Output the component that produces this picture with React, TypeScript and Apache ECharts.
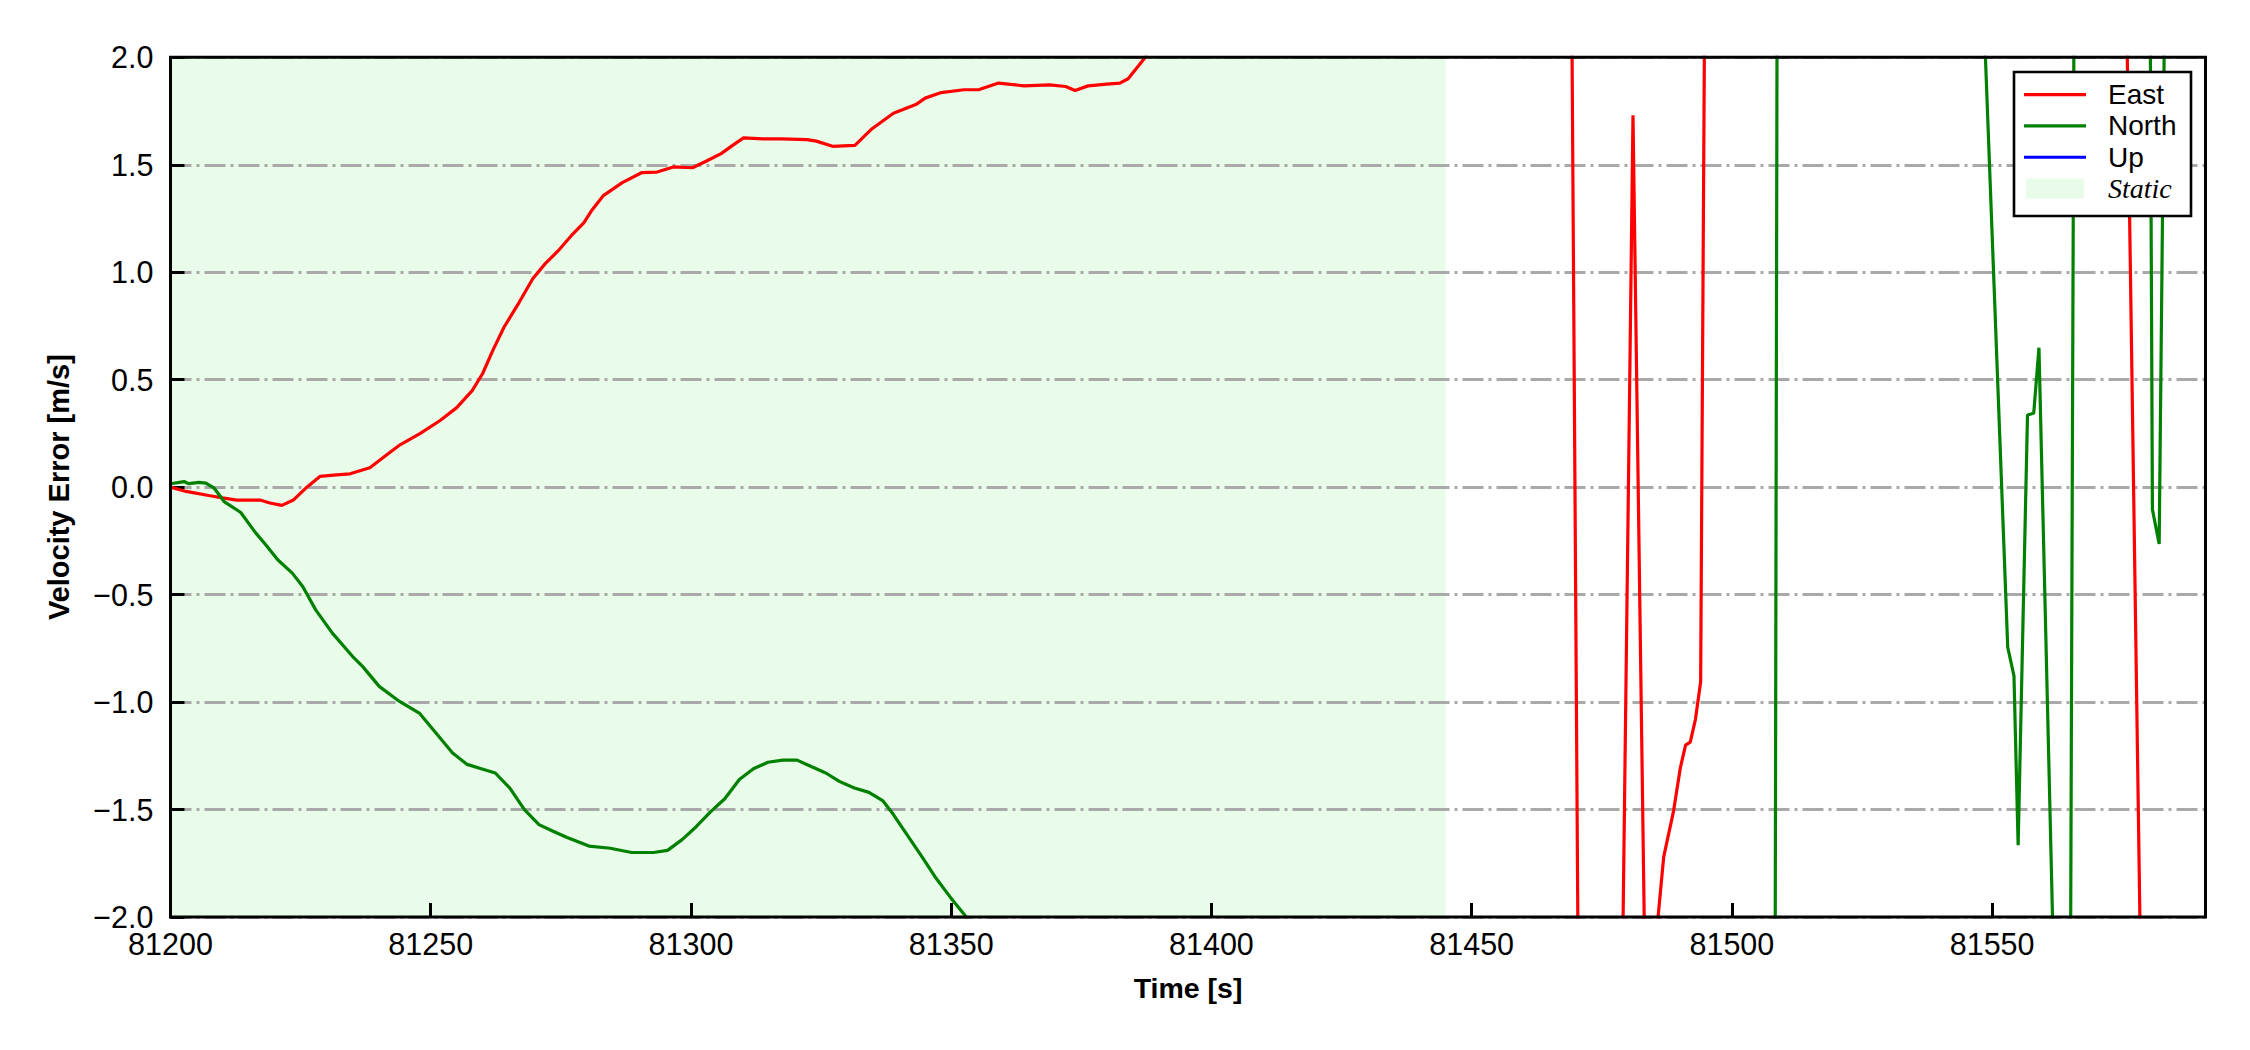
import React, { useEffect, useRef } from "react";
import * as echarts from "echarts";

// ---------- data ----------
const eastTime = [
  81200, 81203, 81207.6, 81210, 81212.7, 81217.2, 81219.1, 81221.4, 81223.6, 81226.2,
  81228.7, 81231.9, 81234.5, 81238.3, 81241.5, 81244.1, 81248, 81251.8, 81255, 81258,
  81260, 81262, 81264.1, 81267, 81269.6, 81272, 81274.5, 81277, 81279.4, 81281,
  81283.1, 81286.8, 81290.5, 81293.5, 81296.6, 81300.3, 81302.7, 81305.8, 81308, 81310.1,
  81313.8, 81317.4, 81322.3, 81324.1, 81327.2, 81331.5, 81334.6, 81338.9, 81343.2, 81345,
  81348.1, 81352.4, 81355.4, 81359.1, 81364, 81368.9, 81372, 81373.8, 81376.3, 81379.9,
  81382.4, 81384, 81387.3, 81390, 81400, 81420, 81440, 81460, 81468, 81469,
  81471, 81475, 81479, 81481, 81483.5, 81486.9, 81488.8, 81490.1, 81491.1, 81492,
  81493, 81494, 81495, 81510, 81530, 81550, 81570, 81575, 81577, 81579,
  81585, 81591,
];
const eastValue = [
  0.0, -0.02, -0.04, -0.05, -0.06, -0.06, -0.074, -0.085, -0.06, 0.0,
  0.05, 0.057, 0.062, 0.09, 0.15, 0.197, 0.25, 0.31, 0.37, 0.45,
  0.53, 0.64, 0.745, 0.86, 0.97, 1.04, 1.1, 1.17, 1.23, 1.29,
  1.355, 1.417, 1.463, 1.466, 1.49, 1.486, 1.514, 1.552, 1.59, 1.625,
  1.62, 1.62, 1.617, 1.61, 1.586, 1.59, 1.664, 1.74, 1.78, 1.81,
  1.836, 1.849, 1.85, 1.88, 1.867, 1.872, 1.864, 1.846, 1.867, 1.875,
  1.88, 1.9, 2.0, 2.15, 2.6, 3.1, 3.8, 4.4, 4.6, 3.09,
  -4.19, -4.6, -2.2, 1.73, -2.6, -1.72, -1.506, -1.306, -1.2, -1.186,
  -1.08, -0.905, 3.2, 4.0, 4.5, 4.2, 3.9, 3.6, 0.3, -3.0,
  -3.8, -4.1,
];

const northTime = [
  81200, 81202.6, 81203.5, 81205.5, 81206.8, 81208.4, 81210.3, 81213.5, 81216.4, 81218.3,
  81220.6, 81223.4, 81225.4, 81227.9, 81231.1, 81235, 81236.9, 81240.1, 81244, 81247.8,
  81251, 81254.2, 81257, 81259.7, 81262.4, 81265.2, 81268, 81270.8, 81273.4, 81276.2,
  81280.4, 81284.5, 81288.6, 81292.8, 81295.5, 81298.3, 81301, 81303.8, 81306.5, 81309.3,
  81312, 81314.8, 81317.6, 81320.4, 81323.1, 81325.9, 81328.6, 81331.4, 81334.2, 81336.9,
  81338.8, 81341.6, 81344.4, 81347.1, 81349.9, 81352.9, 81356, 81380, 81420, 81460,
  81490, 81508, 81509, 81520, 81535, 81547, 81548, 81553, 81554.2, 81555,
  81556.8, 81558, 81559, 81562, 81565, 81566, 81572, 81580.3, 81580.8, 81582.1,
  81583.3, 81586, 81591,
];
const northValue = [
  0.016, 0.026, 0.016, 0.022, 0.019, -0.005, -0.067, -0.118, -0.214, -0.268,
  -0.338, -0.4, -0.462, -0.571, -0.679, -0.788, -0.834, -0.927, -0.997, -1.051,
  -1.144, -1.237, -1.29, -1.31, -1.33, -1.4, -1.5, -1.57, -1.6, -1.63,
  -1.67, -1.68, -1.7, -1.7, -1.69, -1.64, -1.58, -1.51, -1.45, -1.36,
  -1.31, -1.28, -1.27, -1.27, -1.3, -1.33, -1.37, -1.4, -1.42, -1.46,
  -1.52, -1.62, -1.72, -1.82, -1.91, -2.0, -2.2, -3.1, -4.0, -4.8,
  -5.5, -6.0, 6.0, 5.2, 4.0, 3.0, 2.46, -0.745, -0.878, -1.666,
  0.336, 0.344, 0.649, -2.4, -2.67, 4.0, 5.0, 2.6, -0.104, -0.264,
  2.6, 4.5, 5.0,
];

// Up component: no visible samples inside the plotted window
const upTime: number[] = [];
const upValue: number[] = [];

const staticStart = 81200;
const staticEnd = 81445;

const xMin = 81200;
const xMax = 81591;
const xInterval = 50;
const yMin = -2;
const yMax = 2;
const yInterval = 0.5;

// ---------- layout / style ----------
const W = 2250;
const H = 1050;
const GL = 170.5;
const GR = 44.5;
const GT = 57.3;
const GB = 133;
const SANS = "'Liberation Sans', Arial, sans-serif";
const SERIF = "'Liberation Serif', 'Times New Roman', serif";
const STATIC_COLOR = "#e9fce9";
const EAST_COLOR = "#ff0000";
const NORTH_COLOR = "#008000";
const UP_COLOR = "#0000ff";
const LINE_ICON = "path://M0,0H62V3.2H0Z";

const zip = (a: number[], b: number[]) => a.map((t, i) => [t, b[i]]);

export default function App() {
  const ref = useRef<HTMLDivElement>(null);

  useEffect(() => {
    if (!ref.current) return;
    const chart = echarts.init(ref.current, undefined, { renderer: "svg" });

    const lineSeries = (name: string, color: string, data: number[][]) => ({
      name,
      type: "line",
      data,
      symbol: "none",
      showSymbol: false,
      clip: true,
      z: 2,
      color,
      lineStyle: { color, width: 3.2 },
      itemStyle: { color },
    });

    chart.setOption({
      animation: false,
      backgroundColor: "#ffffff",
      textStyle: { fontFamily: SANS, color: "#000" },
      grid: { left: GL, right: GR, top: GT, bottom: GB, show: false, containLabel: false },
      xAxis: {
        type: "value",
        min: xMin,
        max: xMax,
        interval: xInterval,
        z: 1,
        name: "Time [s]",
        nameLocation: "middle",
        nameGap: 56,
        nameTextStyle: { fontFamily: SANS, fontSize: 28.5, fontWeight: "bold", color: "#000" },
        axisLine: { show: false, onZero: false },
        axisTick: { show: true, inside: true, length: 14, lineStyle: { color: "#000", width: 3 } },
        axisLabel: {
          show: true,
          margin: 11,
          fontSize: 30.5,
          fontFamily: SANS,
          color: "#000",
          showMaxLabel: false,
          formatter: (v: number) => String(Math.round(v)),
        },
        splitLine: { show: false },
      },
      yAxis: {
        type: "value",
        min: yMin,
        max: yMax,
        interval: yInterval,
        z: 1,
        name: "Velocity Error [m/s]",
        nameLocation: "middle",
        nameRotate: 90,
        nameGap: 97,
        nameTextStyle: { fontFamily: SANS, fontSize: 29, fontWeight: "bold", color: "#000" },
        axisLine: { show: false, onZero: false },
        axisTick: { show: true, inside: true, length: 14, lineStyle: { color: "#000", width: 3 } },
        axisLabel: {
          show: true,
          margin: 17,
          fontSize: 30.5,
          fontFamily: SANS,
          color: "#000",
          formatter: (v: number) => v.toFixed(1).replace("-", "\u2212"),
        },
        splitLine: {
          show: true,
          lineStyle: { color: "#a9a9a9", width: 2.8, type: [21, 5, 3, 5] },
        },
      },
      legend: {
        show: true,
        orient: "vertical",
        left: 2024,
        top: 79,
        padding: 0,
        itemGap: 0,
        itemWidth: 62,
        itemHeight: 20,
        z: 6,
        textStyle: {
          fontFamily: SANS,
          fontSize: 28,
          color: "#000",
          lineHeight: 31.3,
          padding: [0, 0, 0, 17],
        },
        data: [
          { name: "East", icon: LINE_ICON, itemStyle: { color: EAST_COLOR } },
          { name: "North", icon: LINE_ICON, itemStyle: { color: NORTH_COLOR } },
          { name: "Up", icon: LINE_ICON, itemStyle: { color: UP_COLOR } },
          {
            name: "Static",
            icon: "path://M0,0H58V20H0Z",
            itemStyle: { color: STATIC_COLOR },
            textStyle: { fontFamily: SERIF, fontStyle: "italic", fontSize: 28, color: "#000" },
          },
        ],
      },
      graphic: [
        {
          type: "rect",
          z: 5,
          silent: true,
          shape: { x: 2014, y: 72, width: 177, height: 144 },
          style: { fill: "#ffffff", stroke: "#000", lineWidth: 2.6 },
        },
        {
          type: "rect",
          z: 20,
          silent: true,
          shape: { x: GL, y: GT, width: W - GL - GR, height: H - GT - GB },
          style: { fill: "none", stroke: "#000", lineWidth: 3 },
        },
      ],
      series: [
        lineSeries("East", EAST_COLOR, zip(eastTime, eastValue)),
        lineSeries("North", NORTH_COLOR, zip(northTime, northValue)),
        lineSeries("Up", UP_COLOR, zip(upTime, upValue)),
        {
          name: "Static",
          type: "line",
          data: [],
          z: 0,
          color: STATIC_COLOR,
          itemStyle: { color: STATIC_COLOR },
          lineStyle: { color: STATIC_COLOR },
          markArea: {
            silent: true,
            z: 0,
            itemStyle: { color: STATIC_COLOR, opacity: 1 },
            label: { show: false },
            data: [[{ xAxis: staticStart }, { xAxis: staticEnd }]],
          },
        },
      ],
    });

    return () => chart.dispose();
  }, []);

  return (
    <div
      ref={ref}
      style={{ position: "fixed", left: 0, top: 0, width: W, height: H, background: "#fff" }}
    />
  );
}
